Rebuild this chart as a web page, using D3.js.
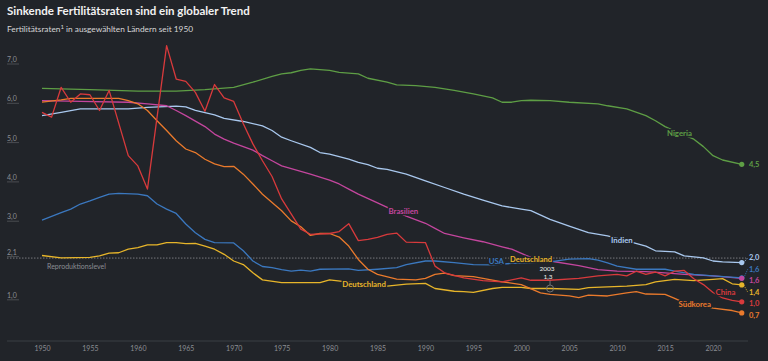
<!DOCTYPE html>
<html>
<head>
<meta charset="utf-8">
<script src="https://cdn.jsdelivr.net/npm/d3@7"></script>
<style>
html, body { margin: 0; background: #212429; }
svg { display: block; font-family: Lato, "Noto Sans", sans-serif; }
</style>
</head>
<body>
<div id="chart"></div>
<script>
// Fertilitätsraten: [Jahr, Wert]
const nigeria = [[1950,6.39],[1955,6.36],[1960,6.32],[1964,6.32],[1967,6.36],[1970,6.42],[1972,6.55],[1974,6.7],[1975,6.76],[1976,6.79],[1977,6.85],[1978,6.89],[1980,6.85],[1981,6.8],[1983,6.76],[1984,6.65],[1986,6.55],[1987,6.48],[1989,6.46],[1991,6.42],[1993,6.34],[1995,6.25],[1997,6.15],[1998,6.04],[1999,6.04],[2000,6.08],[2001,6.09],[2003,6.08],[2005,6.04],[2008,6.0],[2009,5.95],[2011,5.87],[2013,5.7],[2014,5.57],[2015,5.42],[2017,5.2],[2018,5.1],[2019,4.91],[2020,4.68],[2021,4.57],[2023,4.46]];
const indien = [[1950,5.7],[1952,5.78],[1954,5.87],[1959,5.87],[1961,5.91],[1964,5.94],[1965,5.92],[1966,5.83],[1968,5.72],[1969,5.63],[1971,5.55],[1973,5.44],[1974,5.32],[1975,5.15],[1976,5.06],[1978,4.89],[1979,4.76],[1980,4.72],[1982,4.59],[1983,4.51],[1984,4.45],[1985,4.36],[1986,4.33],[1988,4.21],[1990,4.04],[1992,3.87],[1994,3.7],[1996,3.55],[1998,3.4],[2000,3.32],[2001,3.28],[2003,3.06],[2005,2.89],[2007,2.72],[2009,2.64],[2011,2.51],[2013,2.38],[2014,2.26],[2016,2.23],[2017,2.13],[2019,2.08],[2020,2.0],[2021,1.98],[2023,1.96]];
const brasilien = [[1950,6.08],[1954,6.06],[1959,6.04],[1961,6.0],[1963,5.95],[1964,5.83],[1965,5.7],[1967,5.42],[1968,5.23],[1969,5.1],[1970,5.0],[1972,4.82],[1973,4.68],[1974,4.55],[1975,4.42],[1977,4.28],[1978,4.21],[1980,4.06],[1981,3.96],[1982,3.83],[1983,3.7],[1985,3.48],[1988,3.14],[1990,2.96],[1991,2.83],[1992,2.7],[1994,2.59],[1996,2.49],[1998,2.36],[1999,2.3],[2001,2.09],[2003,2.0],[2006,1.88],[2008,1.78],[2010,1.74],[2013,1.73],[2015,1.7],[2017,1.66],[2020,1.62],[2023,1.56]];
const usa = [[1950,3.04],[1952,3.23],[1953,3.32],[1954,3.45],[1955,3.53],[1956,3.62],[1957,3.7],[1958,3.72],[1960,3.7],[1961,3.66],[1962,3.45],[1963,3.32],[1964,3.21],[1965,2.94],[1966,2.72],[1967,2.55],[1968,2.47],[1970,2.46],[1971,2.26],[1972,2.0],[1973,1.86],[1974,1.83],[1975,1.78],[1976,1.74],[1977,1.77],[1978,1.74],[1979,1.79],[1982,1.8],[1983,1.76],[1985,1.79],[1987,1.83],[1988,1.91],[1990,2.0],[1991,2.0],[1993,1.96],[1995,1.91],[1997,1.9],[1999,1.94],[2001,1.96],[2003,1.98],[2005,2.05],[2007,2.06],[2008,2.02],[2009,1.95],[2010,1.87],[2012,1.79],[2015,1.79],[2016,1.74],[2018,1.66],[2020,1.62],[2023,1.57]];
const deutschland = [[1950,2.14],[1952,2.08],[1955,2.09],[1956,2.13],[1957,2.2],[1958,2.21],[1959,2.3],[1960,2.34],[1961,2.41],[1962,2.41],[1963,2.47],[1964,2.47],[1965,2.44],[1966,2.45],[1967,2.38],[1968,2.3],[1969,2.17],[1970,2.0],[1971,1.91],[1972,1.7],[1973,1.52],[1975,1.45],[1977,1.45],[1979,1.45],[1980,1.52],[1982,1.46],[1985,1.38],[1986,1.36],[1988,1.41],[1990,1.43],[1991,1.3],[1993,1.23],[1994,1.22],[1995,1.2],[1997,1.3],[1998,1.33],[2000,1.33],[2001,1.3],[2003,1.3],[2006,1.28],[2007,1.32],[2009,1.34],[2011,1.36],[2013,1.4],[2014,1.47],[2015,1.5],[2016,1.53],[2018,1.5],[2020,1.53],[2021,1.55],[2022,1.42],[2023,1.39]];
const suedkorea = [[1950,6.04],[1952,6.1],[1953,6.14],[1958,6.14],[1959,6.08],[1960,6.0],[1961,5.83],[1962,5.57],[1963,5.32],[1964,5.06],[1965,4.85],[1966,4.76],[1967,4.59],[1968,4.47],[1969,4.4],[1970,4.41],[1971,4.21],[1972,3.96],[1973,3.7],[1975,3.28],[1976,3.02],[1977,2.87],[1978,2.65],[1979,2.7],[1980,2.7],[1981,2.61],[1982,2.38],[1983,2.04],[1984,1.79],[1985,1.66],[1987,1.54],[1989,1.52],[1990,1.56],[1991,1.66],[1992,1.69],[1993,1.63],[1995,1.6],[1996,1.56],[1998,1.47],[2000,1.4],[2002,1.19],[2003,1.15],[2005,1.11],[2006,1.07],[2007,1.13],[2009,1.11],[2011,1.19],[2012,1.22],[2013,1.16],[2015,1.15],[2016,1.05],[2017,0.94],[2018,0.9],[2020,0.8],[2022,0.74],[2023,0.68]];
const china = [[1950,5.78],[1951,5.66],[1952,6.42],[1953,6.04],[1954,6.25],[1955,6.23],[1956,5.83],[1957,6.34],[1959,4.68],[1960,4.42],[1961,3.83],[1963,7.48],[1964,6.63],[1965,6.57],[1966,6.29],[1967,5.81],[1968,6.49],[1969,6.15],[1970,6.06],[1971,5.49],[1972,4.98],[1973,4.55],[1974,4.15],[1975,3.58],[1977,2.81],[1978,2.68],[1980,2.7],[1981,2.75],[1982,2.95],[1983,2.52],[1984,2.55],[1985,2.6],[1986,2.68],[1987,2.71],[1988,2.48],[1990,2.47],[1991,1.87],[1992,1.7],[1994,1.57],[1996,1.5],[1998,1.47],[2000,1.57],[2001,1.51],[2003,1.51],[2006,1.56],[2008,1.62],[2010,1.66],[2011,1.62],[2012,1.74],[2013,1.66],[2014,1.72],[2015,1.62],[2016,1.74],[2017,1.76],[2018,1.55],[2019,1.4],[2020,1.2],[2021,1.06],[2022,1.0],[2023,0.96]];

const xTicks = d3.range(1950, 2021, 5);
const yTicks = [7, 6, 5, 4, 3, 2.1, 1];
const reproLevel = 2.1;

const COLORS = {
    bg: "#212429",
    text: "#f2f2f2",
    sub: "#d6d6d6",
    axis: "#8b8e93",
    axisLine: "#3b3e44",
    nigeria: "#5e9e45",
    indien: "#a9c8ee",
    brasilien: "#c4469e",
    usa: "#3b78bf",
    deutschland: "#e7b52a",
    suedkorea: "#ea7a2c",
    china: "#d83a3c"
};

const series = [
    { name: "Nigeria", key: "nigeria", values: nigeria, label: [2016.5, 5.26] },
    { name: "Indien", key: "indien", values: indien, label: [2010.5, 2.53] },
    { name: "Brasilien", key: "brasilien", values: brasilien, label: [1987.7, 3.27] },
    { name: "USA", key: "usa", values: usa, label: [1997.4, 1.99] },
    { name: "Deutschland", key: "deutschland", values: deutschland, label: [1983.6, 1.41] },
    { name: "Südkorea", key: "suedkorea", values: suedkorea, label: [2018.1, 0.9] },
    { name: "China", key: "china", values: china, label: [2021.3, 1.21] }
];

const width = 768, height = 361;
const de = d3.formatLocale({ decimal: ",", thousands: ".", grouping: [3], currency: ["", "€"] });
const fmt = de.format(".1f");

const x = d3.scaleLinear().domain([1950, 2020]).range([42, 713]);
const y = d3.scaleLinear().domain([1, 7]).range([300.3, 64.5]);

const svg = d3.select("#chart").append("svg")
    .attr("width", width)
    .attr("height", height);

svg.append("rect").attr("width", width).attr("height", height).attr("fill", COLORS.bg);

// Titel
svg.append("text")
    .attr("x", 7).attr("y", 15)
    .attr("fill", COLORS.text)
    .style("font-size", "11.5px").style("font-weight", "bold")
    .text("Sinkende Fertilitätsraten sind ein globaler Trend");

const sub = svg.append("text")
    .attr("x", 7).attr("y", 32)
    .attr("fill", COLORS.sub)
    .style("font-size", "8.3px");
sub.append("tspan").text("Fertilitätsraten");
sub.append("tspan").attr("dy", -3).style("font-size", "6px").text("1");
sub.append("tspan").attr("dy", 3).text(" in ausgewählten Ländern seit 1950");

// y-Achse: Beschriftung mit kurzer Linie darunter
const yAxis = svg.append("g");
yTicks.forEach(t => {
    yAxis.append("text")
        .attr("x", 7).attr("y", y(t) - 2.5)
        .attr("fill", COLORS.axis)
        .style("font-size", "7px")
        .text(fmt(t));
    yAxis.append("line")
        .attr("x1", 7).attr("x2", 19)
        .attr("y1", y(t) - 0.5).attr("y2", y(t) - 0.5)
        .attr("stroke", "#4a4d52").attr("stroke-width", 1);
});

// Reproduktionslevel
svg.append("line")
    .attr("x1", 7).attr("x2", 746)
    .attr("y1", y(reproLevel) + 1).attr("y2", y(reproLevel) + 1)
    .attr("stroke", "#8d8f93").attr("stroke-width", 0.8)
    .attr("stroke-dasharray", "1.5,1.5");
svg.append("text")
    .attr("x", 47).attr("y", y(reproLevel) + 12)
    .attr("fill", COLORS.axis)
    .style("font-size", "7px")
    .text("Reproduktionslevel");

// x-Achse
svg.append("line")
    .attr("x1", 7).attr("x2", 748)
    .attr("y1", 341).attr("y2", 341)
    .attr("stroke", COLORS.axisLine).attr("stroke-width", 1);

const xAxis = svg.append("g")
    .attr("transform", "translate(0,341)")
    .call(d3.axisBottom(x).tickValues(xTicks).tickFormat(d3.format("d")).tickSize(0).tickPadding(5));
xAxis.select(".domain").remove();
xAxis.selectAll("text")
    .attr("fill", COLORS.axis)
    .style("font-family", "Lato, 'Noto Sans', sans-serif")
    .style("font-size", "7px");

// Linien
const line = d3.line()
    .x(d => x(d[0]))
    .y(d => y(d[1]));

svg.append("g").selectAll("path")
    .data(series)
    .enter()
    .append("path")
    .attr("d", d => line(d.values))
    .attr("fill", "none")
    .attr("stroke", d => COLORS[d.key])
    .attr("stroke-width", 1.3)
    .attr("stroke-linejoin", "round");

// Annotation 2003 Deutschland
const annoYear = 2003;
const annoVal = deutschland.find(d => d[0] === annoYear)[1];
svg.append("circle")
    .attr("cx", x(annoYear)).attr("cy", y(annoVal))
    .attr("r", 3.5)
    .attr("fill", "none").attr("stroke", "#77797d").attr("stroke-width", 0.9);
svg.append("line")
    .attr("x1", x(annoYear)).attr("x2", x(annoYear))
    .attr("y1", y(annoVal) - 3.5).attr("y2", y(annoVal) - 8)
    .attr("stroke", "#77797d").attr("stroke-width", 0.9);
svg.append("text")
    .attr("x", x(annoYear) - 3).attr("y", y(annoVal) - 18)
    .attr("text-anchor", "middle")
    .attr("fill", "#eeeeee").style("font-size", "6.5px")
    .text(annoYear);
svg.append("text")
    .attr("x", x(annoYear) - 2).attr("y", y(annoVal) - 10)
    .attr("text-anchor", "middle")
    .attr("fill", "#eeeeee").style("font-size", "6.5px")
    .text(fmt(annoVal));

// Länderbeschriftungen im Diagramm
const halo = sel => sel
    .attr("stroke", COLORS.bg).attr("stroke-width", 3)
    .attr("stroke-linejoin", "round")
    .attr("paint-order", "stroke");

svg.append("g").selectAll("text")
    .data(series)
    .enter()
    .append("text")
    .attr("x", d => x(d.label[0]))
    .attr("y", d => y(d.label[1]))
    .attr("text-anchor", "middle")
    .attr("dominant-baseline", "central")
    .attr("fill", d => COLORS[d.key])
    .style("font-size", "7.8px").style("font-weight", "bold")
    .text(d => d.name)
    .call(halo);

svg.append("text")
    .attr("x", x(annoYear) + 2).attr("y", y(2.05))
    .attr("text-anchor", "end")
    .attr("dominant-baseline", "central")
    .attr("fill", COLORS.deutschland)
    .style("font-size", "7.5px").style("font-weight", "bold")
    .text("Deutschland")
    .call(halo);

// Endwerte mit einfacher Kollisionsvermeidung
const lastYear = 2023;
const ends = series.map(s => {
    const last = s.values[s.values.length - 1];
    return { s, value: last[1], dotY: y(last[1]), labelY: y(last[1]) };
}).sort((a, b) => a.dotY - b.dotY);

const gap = 11.5;
for (let iter = 0; iter < 200; iter++) {
    for (let i = 1; i < ends.length; i++) {
        const overlap = gap - (ends[i].labelY - ends[i - 1].labelY);
        if (overlap > 0) {
            ends[i - 1].labelY -= overlap / 2;
            ends[i].labelY += overlap / 2;
        }
    }
}

const endG = svg.append("g");
ends.forEach(e => {
    const c = COLORS[e.s.key];
    if (Math.abs(e.labelY - e.dotY) > 2.5) {
        endG.append("line")
            .attr("x1", x(lastYear) + 2).attr("y1", e.dotY)
            .attr("x2", x(lastYear) + 6).attr("y2", e.labelY)
            .attr("stroke", c).attr("stroke-width", 0.8)
            .attr("stroke-dasharray", "1.2,1");
    }
    endG.append("circle")
        .attr("cx", x(lastYear)).attr("cy", e.dotY)
        .attr("r", 2.6)
        .attr("fill", c);
    endG.append("text")
        .attr("x", 749).attr("y", e.labelY)
        .attr("dominant-baseline", "central")
        .attr("fill", c)
        .style("font-size", "7.5px").style("font-weight", "bold")
        .text(fmt(e.value));
});
</script>
</body>
</html>
